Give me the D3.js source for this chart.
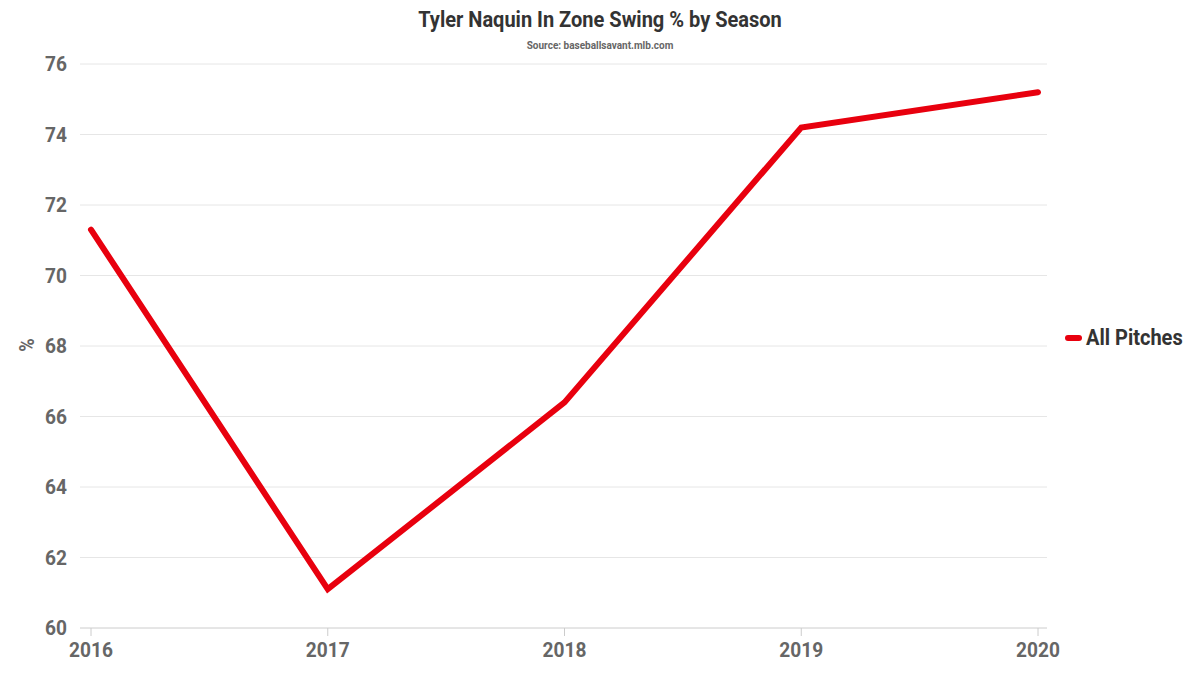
<!DOCTYPE html>
<html><head><meta charset="utf-8">
<script src="https://cdn.jsdelivr.net/npm/d3@7"></script>
<style>
body{margin:0;background:#fff;}
text{font-family:Roboto,"Noto Sans",sans-serif;font-weight:700;}
</style></head>
<body><svg id="c" width="1200" height="675"></svg>
<script>
const seasons = ["2016","2017","2018","2019","2020"];
const allPitches = [71.3, 61.1, 66.4, 74.2, 75.2];
const yTicks = [60,62,64,66,68,70,72,74,76];
const seriesName = "All Pitches";
const title = "Tyler Naquin In Zone Swing % by Season";
const subtitle = "Source: baseballsavant.mlb.com";

const svg = d3.select("#c");
const sx = 0.91;
const x = d3.scalePoint().domain(seasons).range([91,1038]);
const y = d3.scaleLinear().domain([60,76]).range([628,64]);

function cond(sel, ax, ay){ sel.attr("transform",`translate(${ax},${ay}) scale(${sx},1)`); }

// grid
svg.append("g").selectAll("line").data(yTicks.filter(d=>d!==60)).join("line")
  .attr("x1",80).attr("x2",1047).attr("y1",d=>y(d)).attr("y2",d=>y(d))
  .attr("stroke","#e6e6e6").attr("stroke-width",1);
svg.append("line").attr("x1",80).attr("x2",1047).attr("y1",y(60)).attr("y2",y(60))
  .attr("stroke","#ccc").attr("stroke-width",1);
svg.append("g").selectAll("line").data(seasons).join("line")
  .attr("x1",d=>x(d)).attr("x2",d=>x(d)).attr("y1",y(60)).attr("y2",y(60)+8)
  .attr("stroke","#ccc");

// y tick labels
svg.append("g").selectAll("text").data(yTicks).join("text")
  .each(function(d){ cond(d3.select(this), 67, y(d)+7); })
  .attr("text-anchor","end").attr("font-size",21).attr("fill","#666").text(d=>d);
// x tick labels
svg.append("g").selectAll("text").data(seasons).join("text")
  .each(function(d){ cond(d3.select(this), x(d), 657); })
  .attr("text-anchor","middle").attr("font-size",21).attr("fill","#666").text(d=>d);

// y label
svg.append("text").attr("transform",`translate(34,345) rotate(-90) scale(${sx},1)`)
  .attr("text-anchor","middle").attr("font-size",20).attr("fill","#666").text("%");

// title
svg.append("text").call(cond,600,27).attr("text-anchor","middle").attr("font-size",22)
  .attr("fill","#333").text(title);
svg.append("text").call(cond,600,49).attr("text-anchor","middle").attr("font-size",11)
  .attr("fill","#666").text(subtitle);

// line
const line = d3.line().x((d,i)=>x(seasons[i])).y(d=>y(d));
svg.append("path").datum(allPitches).attr("d",line).attr("fill","none")
  .attr("stroke","#e8000e").attr("stroke-width",6).attr("stroke-linejoin","miter")
  .attr("stroke-linecap","round");

// legend
svg.append("line").attr("x1",1068).attr("x2",1079).attr("y1",338).attr("y2",338)
  .attr("stroke","#e8000e").attr("stroke-width",6).attr("stroke-linecap","round");
svg.append("text").call(cond,1086,345).attr("font-size",22).attr("fill","#333").text(seriesName);
</script></body></html>
